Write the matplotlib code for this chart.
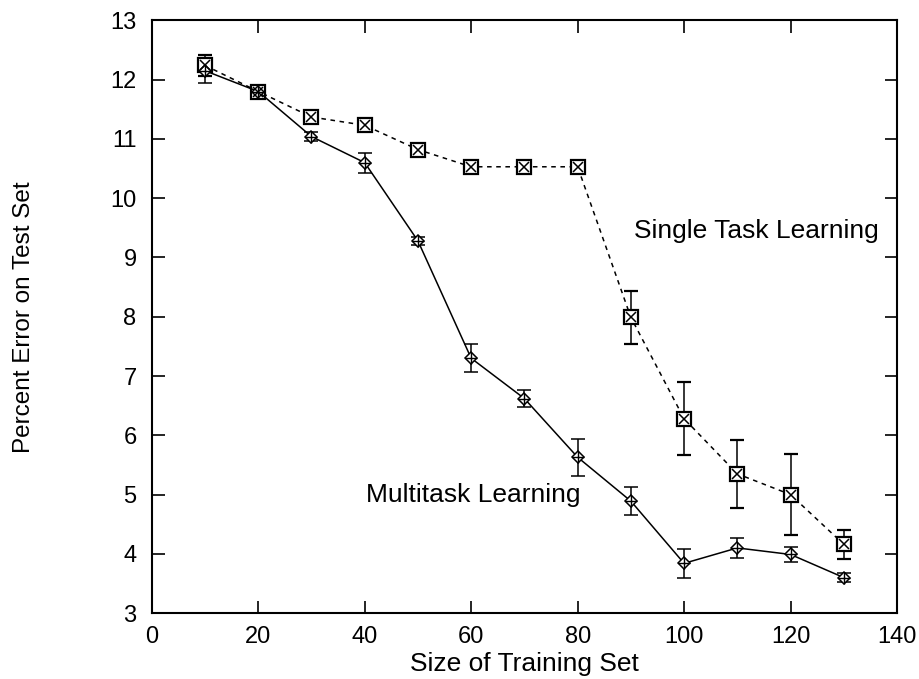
import matplotlib
matplotlib.use("Agg")
import matplotlib.pyplot as plt

plt.rcParams['font.family'] = ['Liberation Sans', 'DejaVu Sans']

# training set sizes
sizes = [10, 20, 30, 40, 50, 60, 70, 80, 90, 100, 110, 120, 130]

# multitask learning
mtl_err = [12.15, 11.8, 11.04, 10.6, 9.28, 7.3, 6.62, 5.63, 4.89, 3.84, 4.1, 3.99, 3.6]
mtl_sd = [0.2, 0.1, 0.08, 0.17, 0.07, 0.24, 0.15, 0.31, 0.24, 0.25, 0.17, 0.13, 0.07]

# single task learning
stl_err = [12.24, 11.8, 11.37, 11.23, 10.82, 10.53, 10.53, 10.53, 7.99, 6.28, 5.35, 5.0, 4.16]
stl_sd = [0.18, 0.08, 0.1, 0.07, 0.05, 0.05, 0.04, 0.04, 0.45, 0.62, 0.57, 0.68, 0.25]

fig = plt.figure(figsize=(9.2, 6.79), dpi=100)
ax = fig.add_axes([0.165, 0.097, 0.81, 0.873])

# single task: dashed line, square with x
ax.errorbar(sizes, stl_err, yerr=stl_sd, color='black', ls=(0, (3, 3)), lw=1.1,
            capsize=5, elinewidth=1.1, capthick=1.1, marker='s', ms=10,
            mfc='white', mec='black', mew=1.6, zorder=2)
ax.plot(sizes, stl_err, ls='none', marker='x', ms=6.5, color='black', mew=1.1, zorder=3)

# multitask: solid line, diamond with +
ax.errorbar(sizes, mtl_err, yerr=mtl_sd, color='black', ls='-', lw=1.1,
            capsize=5, elinewidth=1.1, capthick=1.1, marker='D', ms=6.5,
            mfc='white', mec='black', mew=1.1, zorder=2)
ax.plot(sizes, mtl_err, ls='none', marker='+', ms=9, color='black', mew=1.0, zorder=3)

ax.text(90.5, 9.45, 'Single Task Learning', fontsize=19, va='center')
ax.text(40.2, 5.0, 'Multitask Learning', fontsize=19, va='center')

ax.set_xlim(0, 140)
ax.set_ylim(3, 13)
ax.set_xticks(range(0, 141, 20))
ax.set_yticks(range(3, 14))
ax.tick_params(direction='in', length=9, width=1.2, top=True, right=True,
               labelsize=17, pad=9)
ax.tick_params(axis='y', pad=11)
for s in ax.spines.values():
    s.set_linewidth(1.5)

ax.set_xlabel('Size of Training Set', fontsize=19, labelpad=3)
ax.set_ylabel('Percent Error on Test Set', fontsize=17.5, labelpad=54)

fig.savefig('out.png', dpi=100)
